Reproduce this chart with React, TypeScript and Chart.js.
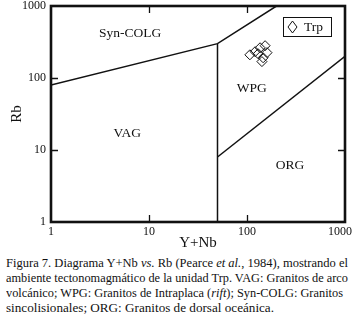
import React, { useEffect, useLayoutEffect, useRef } from "react";
import { Chart, registerables } from "chart.js";

Chart.register(...registerables);

// Sample data (Trp unit)
const trpYNb = [107, 121, 136, 153, 160, 146, 142, 130];
const trpRb = [210, 232, 263, 281, 225, 191, 169, 217];

// Axis ticks
const xTickValues = [1, 10, 100, 1000];
const xTickLabels = ["1", "10", "100", "1000"];
const yTickValues = [1, 10, 100, 1000];

// Field boundaries (Pearce et al., 1984)
const vagColgX = [1, 50, 200];
const vagColgY = [80, 300, 1000];
const vagWpgX = [50, 50];
const vagWpgY = [300, 1];
const wpgOrgX = [50, 1000];
const wpgOrgY = [8, 200];

// Field names and their anchor points (data units)
const fieldNames = ["Syn-COLG", "VAG", "WPG", "ORG"];
const fieldX = [6.4, 6.0, 112, 275];
const fieldY = [411, 17, 71, 6.1];

const seriesLabel = "Trp";
const xTitle = "Y+Nb";
const yTitle = "Rb";

const FONT = "'Liberation Serif', 'Times New Roman', serif";

const toPts = (xs: number[], ys: number[]) => xs.map((x, i) => ({ x, y: ys[i] }));

const framePlugin = {
  id: "frame",
  afterDatasetsDraw(chart: any) {
    const { ctx, chartArea, width } = chart;
    const xs = chart.scales.x;
    const ys = chart.scales.y;
    const { left, right, top, bottom } = chartArea;
    ctx.save();
    ctx.strokeStyle = "#111";
    // inward tick marks on all four sides
    ctx.lineWidth = 1.3;
    const tl = 7;
    xTickValues.forEach((v) => {
      const px = Math.round(xs.getPixelForValue(v)) + 0.5;
      if (px <= left + 2 || px >= right - 2) return;
      ctx.beginPath();
      ctx.moveTo(px, bottom);
      ctx.lineTo(px, bottom - tl);
      ctx.moveTo(px, top);
      ctx.lineTo(px, top + tl);
      ctx.stroke();
    });
    yTickValues.forEach((v) => {
      const py = Math.round(ys.getPixelForValue(v)) + 0.5;
      if (py <= top + 2 || py >= bottom - 2) return;
      ctx.beginPath();
      ctx.moveTo(left, py);
      ctx.lineTo(left + tl, py);
      ctx.moveTo(right, py);
      ctx.lineTo(right - tl, py);
      ctx.stroke();
    });
    // frame
    ctx.lineWidth = 2.6;
    ctx.strokeRect(left, top, right - left, bottom - top);

    // x tick labels (kept inside the canvas)
    ctx.fillStyle = "#111";
    ctx.font = `12px ${FONT}`;
    ctx.textAlign = "center";
    ctx.textBaseline = "middle";
    xTickValues.forEach((v, i) => {
      const label = xTickLabels[i];
      const w = ctx.measureText(label).width;
      let px = xs.getPixelForValue(v);
      px = Math.min(px, width - 2 - w / 2);
      ctx.fillText(label, px, bottom + 10);
    });

    // field names
    ctx.font = `13.5px ${FONT}`;
    fieldNames.forEach((name, i) => {
      ctx.fillText(name, xs.getPixelForValue(fieldX[i]), ys.getPixelForValue(fieldY[i]));
    });

    // legend box
    const bw = 48;
    const bh = 19;
    const bx = right - 14 - bw;
    const by = top + 11;
    ctx.lineWidth = 1;
    ctx.strokeRect(bx + 0.5, by + 0.5, bw, bh);
    const cx = bx + 9.5;
    const cy = by + bh / 2 + 0.5;
    ctx.beginPath();
    ctx.moveTo(cx, cy - 6);
    ctx.lineTo(cx + 4.5, cy);
    ctx.lineTo(cx, cy + 6);
    ctx.lineTo(cx - 4.5, cy);
    ctx.closePath();
    ctx.stroke();
    ctx.textAlign = "left";
    ctx.fillText(chart.data.datasets[0].label, bx + 21, cy + 0.5);
    ctx.restore();
  },
};

const captionLines = [
  <>Figura 7. Diagrama Y+Nb <i>vs.</i> Rb (Pearce <i>et al.</i>, 1984), mostrando el</>,
  <>ambiente tectonomagmático de la unidad Trp. VAG: Granitos de arco</>,
  <>volcánico; WPG: Granitos de Intraplaca (<i>rift</i>); Syn-COLG: Granitos</>,
  <>sincolisionales; ORG: Granitos de dorsal oceánica.</>,
];

export default function App() {
  const canvasRef = useRef<HTMLCanvasElement | null>(null);
  const lineRefs = useRef<(HTMLSpanElement | null)[]>([]);
  const lineTargets = [342, 342, 337, 268];

  useLayoutEffect(() => {
    lineRefs.current.forEach((el, i) => {
      if (!el) return;
      el.style.transform = "none";
      const w = el.getBoundingClientRect().width;
      if (w > 0) el.style.transform = `scaleX(${lineTargets[i] / w})`;
    });
  }, []);

  useEffect(() => {
    const canvas = canvasRef.current;
    if (!canvas) return;
    const lineDs = (xs: number[], ys: number[]) => ({
      label: "",
      data: toPts(xs, ys),
      showLine: true,
      pointRadius: 0,
      borderColor: "#111",
      borderWidth: 1.5,
      fill: false,
    });
    const chart = new Chart(canvas, {
      type: "scatter",
      data: {
        datasets: [
          {
            label: seriesLabel,
            data: toPts(trpYNb, trpRb),
            pointStyle: "rectRot",
            pointRadius: 5,
            borderColor: "#111",
            backgroundColor: "rgba(0,0,0,0)",
            borderWidth: 1,
          } as any,
          lineDs(vagColgX, vagColgY),
          lineDs(vagWpgX, vagWpgY),
          lineDs(wpgOrgX, wpgOrgY),
        ],
      },
      options: {
        animation: false,
        responsive: false,
        maintainAspectRatio: false,
        layout: { padding: { top: 5, right: 9, left: 0, bottom: 0 } },
        plugins: {
          legend: { display: false },
          tooltip: { enabled: false },
        },
        scales: {
          x: {
            type: "logarithmic",
            min: 1,
            max: 1000,
            afterBuildTicks: (s: any) => {
              s.ticks = xTickValues.map((v) => ({ value: v }));
            },
            afterFit: (s: any) => {
              s.height = 30;
              s.paddingLeft = 0;
              s.paddingRight = 0;
            },
            grid: { display: false, drawTicks: false },
            border: { display: false },
            ticks: { display: false },
            title: {
              display: true,
              text: xTitle,
              color: "#111",
              font: { family: FONT, size: 15 },
              padding: { top: 0, bottom: 0 },
            },
          },
          y: {
            type: "logarithmic",
            min: 1,
            max: 1000,
            afterBuildTicks: (s: any) => {
              s.ticks = yTickValues.map((v) => ({ value: v }));
            },
            afterFit: (s: any) => {
              s.width = 51;
              s.paddingTop = 0;
              s.paddingBottom = 0;
            },
            grid: { display: false, drawTicks: false },
            border: { display: false },
            ticks: {
              color: "#111",
              font: { family: FONT, size: 12 },
              padding: 5,
              autoSkip: false,
              callback: (v: any) => String(v),
            },
            title: {
              display: true,
              text: yTitle,
              color: "#111",
              font: { family: FONT, size: 15 },
              padding: { top: 8, bottom: 0 },
            },
          },
        },
      } as any,
      plugins: [framePlugin],
    });
    return () => chart.destroy();
  }, []);

  return (
    <div
      style={{
        position: "absolute",
        left: 0,
        top: 0,
        width: 354,
        height: 317,
        background: "#fff",
        overflow: "hidden",
      }}
    >
      <canvas
        ref={canvasRef}
        width={354}
        height={252}
        style={{ display: "block", width: 354, height: 252 }}
      />
      {captionLines.map((line, i) => (
        <span
          key={i}
          ref={(el) => {
            lineRefs.current[i] = el;
          }}
          style={{
            position: "absolute",
            left: 6,
            top: 255 + i * 15,
            fontFamily: FONT,
            fontSize: 13,
            lineHeight: "15px",
            color: "#111",
            whiteSpace: "nowrap",
            display: "inline-block",
            transformOrigin: "left top",
          }}
        >
          {line}
        </span>
      ))}
    </div>
  );
}
